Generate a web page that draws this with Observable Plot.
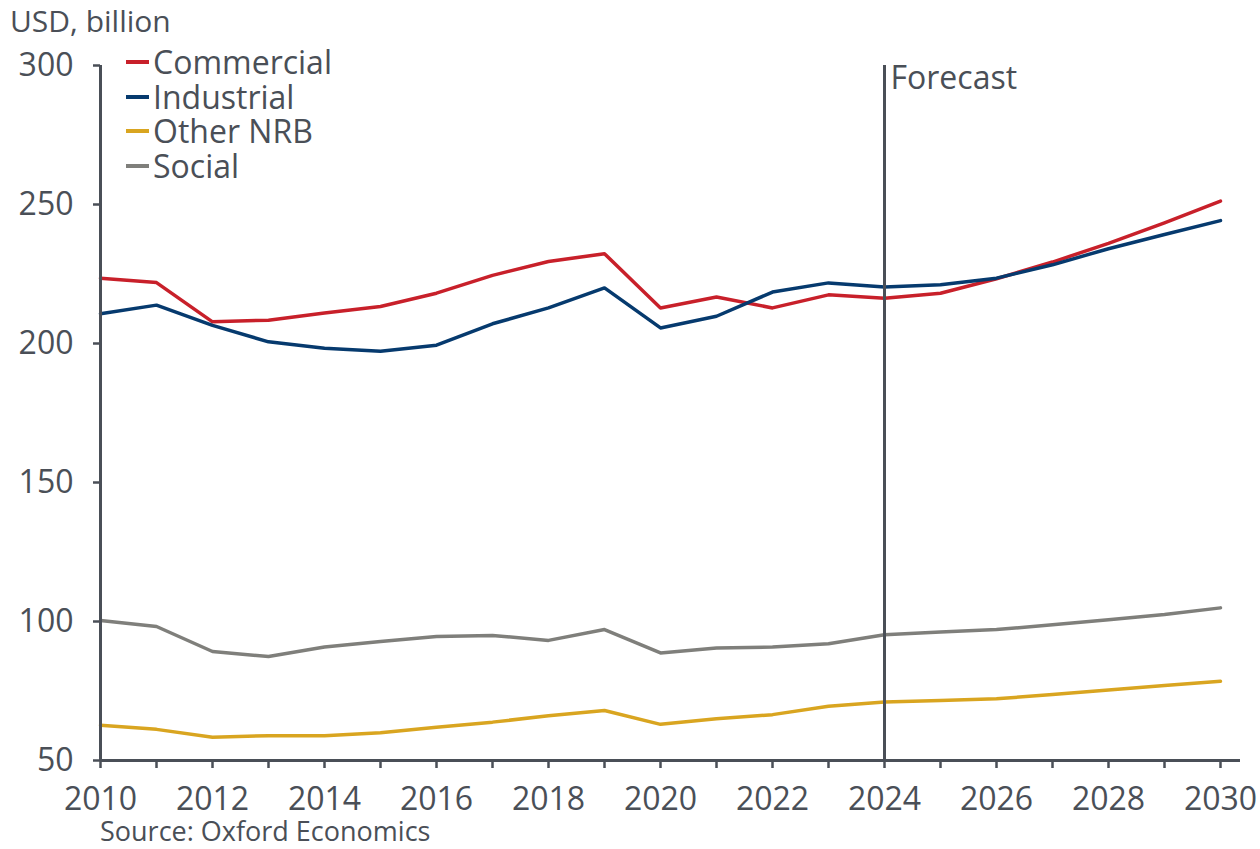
<!DOCTYPE html>
<html>
<head>
<meta charset="utf-8">
<script src="https://cdn.jsdelivr.net/npm/d3@7"></script>
<script src="https://cdn.jsdelivr.net/npm/@observablehq/plot@0.6"></script>
<style>
  html, body { margin: 0; padding: 0; background: #ffffff; }
  body { font-family: "Open Sans", sans-serif; color: #4a4f57; }
  #wrap { position: relative; width: 1260px; height: 849px; overflow: hidden; }
  #unit { position: absolute; left: 10px; top: 0px; line-height: normal; font-size: 30px; }
  #legend { position: absolute; left: 126px; top: 45px; font-size: 32px; }
  #legend .row { display: flex; align-items: center; height: 34.5px; }
  #legend .sw { width: 23px; height: 4px; margin-right: 4px; flex: none; }
  #legend .lab { display: block; height: 34.5px; line-height: 34.5px; overflow: visible; }
  #source { position: absolute; left: 100px; top: 812px; line-height: normal; font-size: 27px; }
  #chart { position: absolute; left: 0; top: 0; }
</style>
</head>
<body>
<div id="wrap">
  <div id="chart"></div>
  <div id="unit">USD, billion</div>
  <div id="legend"></div>
  <div id="source">Source: Oxford Economics</div>
</div>
<script>
// ---- Data ----
const years = [2010, 2011, 2012, 2013, 2014, 2015, 2016, 2017, 2018, 2019, 2020,
               2021, 2022, 2023, 2024, 2025, 2026, 2027, 2028, 2029, 2030];
const commercial = [223.5, 221.9, 207.8, 208.4, 211.0, 213.3, 218.1, 224.5, 229.5, 232.3, 212.8,
                    216.7, 212.8, 217.5, 216.3, 218.1, 223.3, 229.3, 236.0, 243.4, 251.2];
const industrial = [210.7, 213.8, 206.5, 200.6, 198.3, 197.2, 199.4, 207.1, 212.8, 220.0, 205.6,
                    209.8, 218.5, 221.8, 220.3, 221.1, 223.5, 228.3, 234.1, 239.2, 244.2];
const otherNRB   = [62.7, 61.2, 58.4, 58.9, 58.9, 60.0, 62.0, 63.8, 66.1, 68.0, 63.0,
                    65.0, 66.5, 69.5, 71.0, 71.6, 72.2, 73.7, 75.4, 77.0, 78.5];
const social     = [100.4, 98.2, 89.2, 87.4, 90.8, 92.8, 94.6, 95.0, 93.2, 97.1, 88.7,
                    90.5, 90.8, 92.0, 95.2, 96.2, 97.1, 98.8, 100.6, 102.5, 104.9];
const seriesNames = ["Commercial", "Industrial", "Other NRB", "Social"];
const seriesColors = ["#c8202a", "#063a6e", "#d9a520", "#7f7f7b"];
const yTicks = [50, 100, 150, 200, 250, 300];
const forecastYear = [2024];
const forecastLabel = ["Forecast"];

const seriesValues = [commercial, industrial, otherNRB, social];
const data = [];
seriesNames.forEach((name, i) => {
  years.forEach((yr, j) => data.push({series: name, year: yr, value: seriesValues[i][j]}));
});

const axisColor = "#4a4f57";

const chart = Plot.plot({
  width: 1260,
  height: 849,
  marginLeft: 100,
  marginTop: 65,
  marginBottom: 89,
  marginRight: 20,
  insetRight: 20,
  style: {fontFamily: "'Open Sans', sans-serif", fontSize: "32px", color: axisColor, background: "#ffffff"},
  x: {domain: [2010, 2030]},
  y: {domain: [50, 300]},
  color: {domain: seriesNames, range: seriesColors},
  marks: [
    Plot.axisY({ticks: yTicks, tickSize: 7, tickPadding: 20, stroke: axisColor, strokeWidth: 2.5,
                fontSize: 32, fill: axisColor, label: null}),
    Plot.axisX({ticks: years, tickSize: 8, tickPadding: 19, stroke: axisColor, strokeWidth: 2.5,
                fontSize: 32, fill: axisColor, label: null,
                tickFormat: d => (d % 2 === 0 ? String(d) : "")}),
    Plot.line(data, {x: "year", y: "value", z: "series", stroke: "series", strokeWidth: 3.5,
                     strokeLinejoin: "round"}),
    Plot.ruleX(forecastYear, {stroke: axisColor, strokeWidth: 3}),
    Plot.text(forecastLabel, {x: () => forecastYear[0], frameAnchor: "top", text: d => d,
                              textAnchor: "start", lineAnchor: "middle", dx: 6, dy: 13,
                              fontSize: 32, fill: axisColor}),
    Plot.ruleY([50], {stroke: axisColor, strokeWidth: 3}),
    Plot.ruleX([2010], {stroke: axisColor, strokeWidth: 3})
  ]
});
document.getElementById("chart").appendChild(chart);

// Legend
const legend = document.getElementById("legend");
seriesNames.forEach((name, i) => {
  const row = document.createElement("div");
  row.className = "row";
  const sw = document.createElement("div");
  sw.className = "sw";
  sw.style.background = seriesColors[i];
  const label = document.createElement("div");
  label.className = "lab";
  label.textContent = name;
  row.appendChild(sw);
  row.appendChild(label);
  legend.appendChild(row);
});
</script>
</body>
</html>
